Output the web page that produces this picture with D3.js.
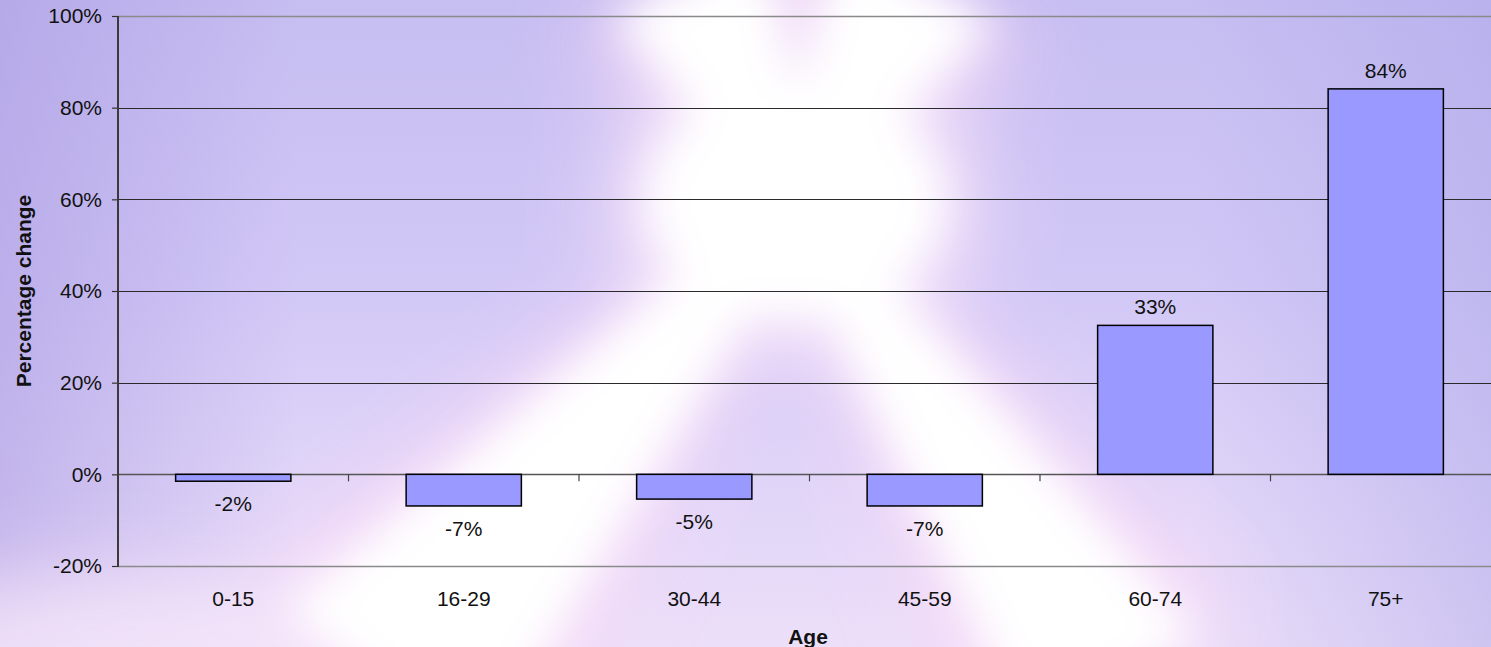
<!DOCTYPE html>
<html><head><meta charset="utf-8">
<script src="https://cdn.jsdelivr.net/npm/d3@7"></script>
<style>html,body{margin:0;padding:0;overflow:hidden;background:#d0c8f4}svg{display:block}</style>
</head><body><svg id="c" width="1491" height="647"></svg>
<script>
// ---- data ----
const categories = ["0-15", "16-29", "30-44", "45-59", "60-74", "75+"];
const values = [-0.015, -0.069, -0.054, -0.069, 0.325, 0.841];
const valueLabels = ["-2%", "-7%", "-5%", "-7%", "33%", "84%"];
const yTicks = [-0.2, 0, 0.2, 0.4, 0.6, 0.8, 1.0];
const yTickLabels = ["-20%", "0%", "20%", "40%", "60%", "80%", "100%"];
const xTitle = "Age";
const yTitle = "Percentage change";

const W = 1491, H = 647;
const svg = d3.select("#c");
const defs = svg.append("defs");

// ---- background ----
const gV = defs.append("linearGradient").attr("id", "bgV").attr("x1", 0).attr("y1", 0).attr("x2", 0).attr("y2", 1);
[[0, "#c6bdf1"], [0.45, "#d2c8f6"], [1, "#ecdff9"]].forEach(s => gV.append("stop").attr("offset", s[0]).attr("stop-color", s[1]));
const gL = defs.append("linearGradient").attr("id", "bgL").attr("x1", 0).attr("y1", 0).attr("x2", 1).attr("y2", 0);
[[0, "#a696e0", 0.5], [0.2, "#a696e0", 0], [0.8, "#a8a4e8", 0], [1, "#a8a4e8", 0.45]].forEach(s => gL.append("stop").attr("offset", s[0]).attr("stop-color", s[1]).attr("stop-opacity", s[2]));
const fB1 = defs.append("filter").attr("id", "blur1").attr("x", "-50%").attr("y", "-50%").attr("width", "200%").attr("height", "200%");
fB1.append("feGaussianBlur").attr("stdDeviation", 22);
const fB2 = defs.append("filter").attr("id", "blur2").attr("x", "-50%").attr("y", "-50%").attr("width", "200%").attr("height", "200%");
fB2.append("feGaussianBlur").attr("stdDeviation", 40);

const bg = svg.append("g");
bg.append("rect").attr("width", W).attr("height", H).attr("fill", "url(#bgV)");
bg.append("rect").attr("width", W).attr("height", H).attr("fill", "url(#bgL)");

const C = [795, 200];
const rays = [
  {to: [690, -20], hw: 85},
  {to: [915, -20], hw: 90},
  {to: [380, 690], hw: 125},
  {to: [1115, 690], hw: 100}
];
function wedge(r, extra) {
  const dx = r.to[0] - C[0], dy = r.to[1] - C[1];
  const len = Math.hypot(dx, dy);
  const px = -dy / len, py = dx / len;
  const hw = r.hw + extra;
  const hc = 20 + extra * 0.3;
  return [[C[0] + px * hc, C[1] + py * hc],
          [r.to[0] + px * hw, r.to[1] + py * hw],
          [r.to[0] - px * hw, r.to[1] - py * hw],
          [C[0] - px * hc, C[1] - py * hc]];
}
const line = d3.line();
const pinkG = bg.append("g").attr("filter", "url(#blur2)").attr("opacity", 0.85);
rays.forEach(r => pinkG.append("path").attr("d", line(wedge(r, 45)) + "Z").attr("fill", "#f7d9f7"));
pinkG.append("ellipse").attr("cx", C[0]).attr("cy", C[1]).attr("rx", 190).attr("ry", 160).attr("fill", "#f7e2f9");
pinkG.append("ellipse").attr("cx", 110).attr("cy", 650).attr("rx", 260).attr("ry", 75).attr("fill", "#f6e6fa");
const whiteG = bg.append("g").attr("filter", "url(#blur1)");
rays.forEach(r => whiteG.append("path").attr("d", line(wedge(r, 0)) + "Z").attr("fill", "#ffffff"));
whiteG.append("ellipse").attr("cx", C[0]).attr("cy", C[1]).attr("rx", 150).attr("ry", 120).attr("fill", "#ffffff");

// ---- scales ----
const x = d3.scaleBand().domain(categories).range([118, 1501]).paddingInner(0.5).paddingOuter(0.25);
const y = d3.scaleLinear().domain([-0.2, 1.0]).range([566, 16]);
const FONT = "'Liberation Sans', Arial, sans-serif";

// gridlines
const g = svg.append("g");
g.selectAll("line.grid").data(yTicks).join("line")
  .attr("x1", 118).attr("x2", 1501)
  .attr("y1", d => Math.round(y(d)) + 0.5).attr("y2", d => Math.round(y(d)) + 0.5)
  .attr("stroke", d => (d === 1.0 || d === -0.2) ? "#8a8a8a" : (d === 0 ? "#555" : "#2a2a2a"))
  .attr("stroke-width", d => (d === 1.0 || d === -0.2 || d === 0) ? 1.5 : 1);

// bars
g.selectAll("rect.bar").data(values).join("rect")
  .attr("x", (d, i) => x(categories[i]))
  .attr("width", x.bandwidth())
  .attr("y", d => y(Math.max(0, d)))
  .attr("height", d => Math.abs(y(d) - y(0)))
  .attr("fill", "#9999ff").attr("stroke", "#000").attr("stroke-width", 1.5);

// x boundary ticks
const bounds = d3.range(categories.length + 1).map(i => x.range()[0] + i * x.step());
g.selectAll("line.xt").data(bounds).join("line")
  .attr("x1", d => d).attr("x2", d => d)
  .attr("y1", y(0)).attr("y2", y(0) + 7)
  .attr("stroke", "#444").attr("stroke-width", 1.2);

// y axis
const yAxis = d3.axisLeft(y).tickValues(yTicks).tickSize(6).tickPadding(10)
  .tickFormat((d, i) => yTickLabels[i]);
const ya = svg.append("g").attr("transform", "translate(118,0)").call(yAxis);
ya.select(".domain").remove();
ya.selectAll(".tick line").attr("stroke", "#333").attr("stroke-width", 1.2);
ya.selectAll(".tick text").attr("font-family", FONT).attr("font-size", 21).attr("fill", "#111");
svg.append("line").attr("x1", 118).attr("x2", 118).attr("y1", 16).attr("y2", 567)
  .attr("stroke", "#3a3a3a").attr("stroke-width", 2);

// x labels
svg.selectAll("text.xl").data(categories).join("text")
  .attr("x", d => x(d) + x.bandwidth() / 2).attr("y", 606)
  .attr("text-anchor", "middle").attr("font-family", FONT).attr("font-size", 21).attr("fill", "#111")
  .text(d => d);

// value labels
svg.selectAll("text.vl").data(values).join("text")
  .attr("x", (d, i) => x(categories[i]) + x.bandwidth() / 2)
  .attr("y", d => d >= 0 ? y(d) - 11 : y(d) + 30)
  .attr("text-anchor", "middle").attr("font-family", FONT).attr("font-size", 21).attr("fill", "#111")
  .text((d, i) => valueLabels[i]);

// titles
svg.append("text").attr("x", 808).attr("y", 644).attr("text-anchor", "middle")
  .attr("font-family", FONT).attr("font-size", 21).attr("font-weight", "bold").attr("fill", "#111").text(xTitle);
svg.append("text").attr("transform", "translate(31,291) rotate(-90)").attr("text-anchor", "middle")
  .attr("font-family", FONT).attr("font-size", 21).attr("font-weight", "bold").attr("fill", "#111").text(yTitle);
</script>
</body></html>
